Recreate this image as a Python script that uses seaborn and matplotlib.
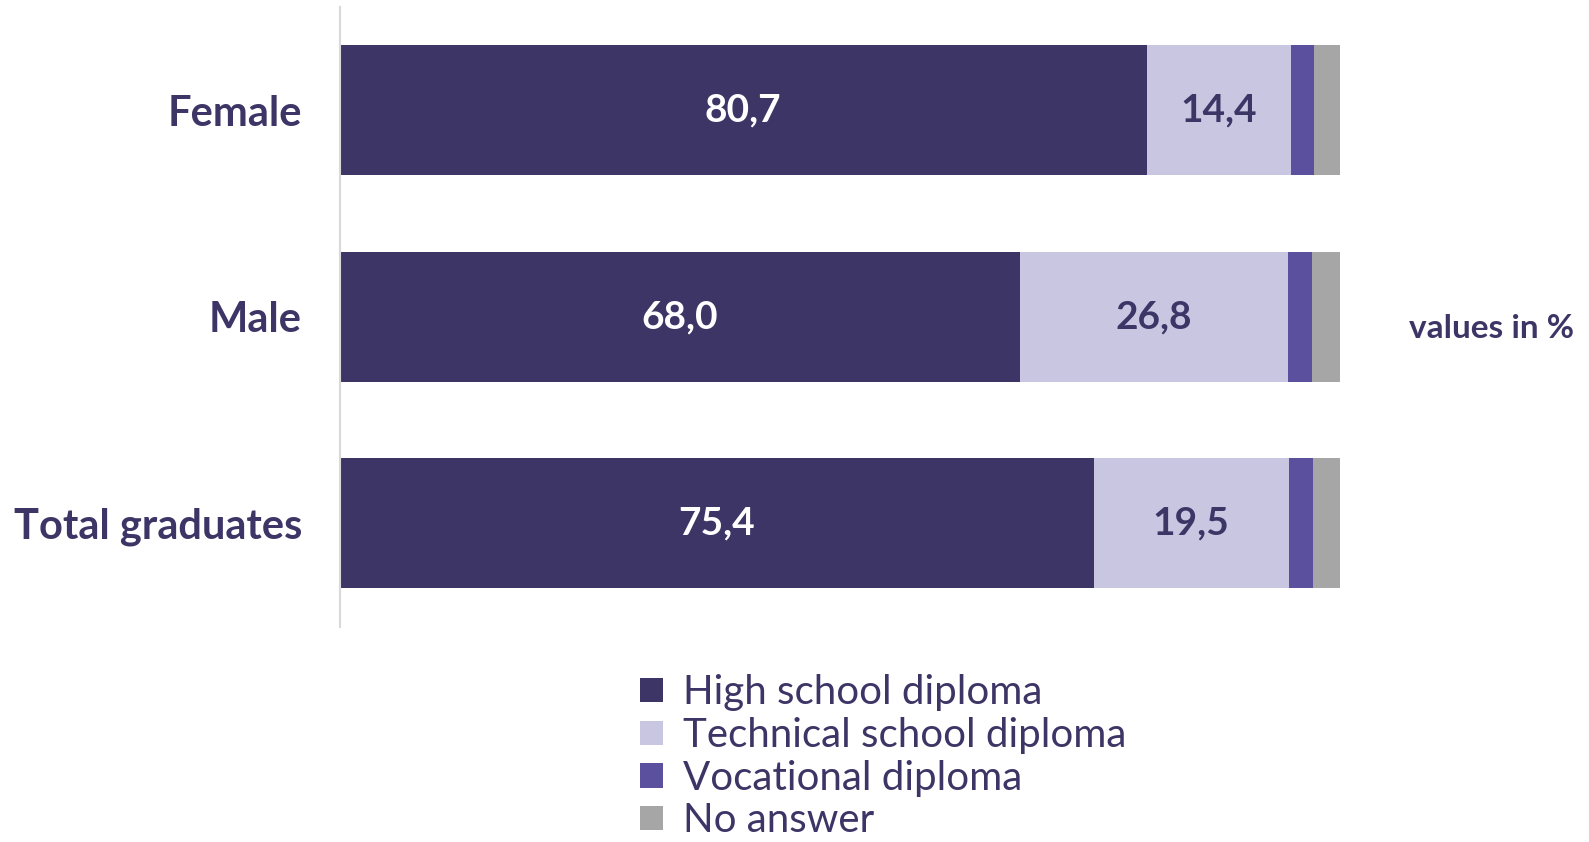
import numpy as np
import pandas as pd
import matplotlib
matplotlib.use("Agg")
import matplotlib.pyplot as plt
import seaborn as sns
from matplotlib.patches import Patch

# data (values in %)
groups = ["Female", "Male", "Total graduates"]
series = ["High school diploma", "Technical school diploma", "Vocational diploma", "No answer"]
high_school = [80.7, 68.0, 75.4]
technical = [14.4, 26.8, 19.5]
vocational = [2.3, 2.4, 2.4]
no_answer = [2.6, 2.8, 2.7]

colors = ["#3C3566", "#C9C6E1", "#5A509E", "#A6A6A6"]
text_dark = "#3C3566"

sns.set_theme(style="white")
plt.rcParams['font.family'] = ['Lato', 'DejaVu Sans']

df = pd.DataFrame({
    "group": groups,
    series[0]: high_school,
    series[1]: technical,
    series[2]: vocational,
    series[3]: no_answer,
})
# cumulative widths for stacking: draw longest first, overlap shorter ones
cum = df[series].cumsum(axis=1)

fig = plt.figure(figsize=(15.89, 8.42), dpi=100)
ax = fig.add_axes([0.2137, 0.2557, 0.843 - 0.2137, 0.992 - 0.2557])

for name, col in reversed(list(zip(series, colors))):
    sns.barplot(x=cum[name], y=df["group"], color=col, orient="h",
                width=0.63, linewidth=0, saturation=1, ax=ax)

# value labels for the two big segments
for i in range(len(groups)):
    ax.text(high_school[i] / 2, i, f"{high_school[i]:.1f}".replace(".", ","),
            ha="center", va="center", color="white", fontsize=28, fontweight="bold")
    ax.text(high_school[i] + technical[i] / 2, i, f"{technical[i]:.1f}".replace(".", ","),
            ha="center", va="center", color=text_dark, fontsize=28, fontweight="bold")

ax.set_xlim(0, 100)
ax.set_ylim(2.5, -0.5)
ax.set_xlabel("")
ax.set_ylabel("")
ax.set_xticks([])
ax.tick_params(axis="y", length=0, pad=27, labelsize=30, labelcolor=text_dark)
for lab in ax.get_yticklabels():
    lab.set_fontweight("bold")
for s in ["top", "right", "bottom"]:
    ax.spines[s].set_visible(False)
ax.spines["left"].set_color("#D9D9D9")
ax.spines["left"].set_linewidth(1.5)

handles = [Patch(facecolor=c, edgecolor="none") for c in colors]
fig.legend(handles, series, loc="upper left", bbox_to_anchor=(0.403, 0.199),
           frameon=False, fontsize=29, handlelength=0.55, handleheight=0.55,
           handletextpad=0.52, labelspacing=0.14, borderpad=0, borderaxespad=0,
           labelcolor=text_dark)

fig.text(0.887, 0.61, "values in %", ha="left", va="center", color=text_dark,
         fontsize=24, fontweight="bold")

fig.savefig("out.png", dpi=100)
